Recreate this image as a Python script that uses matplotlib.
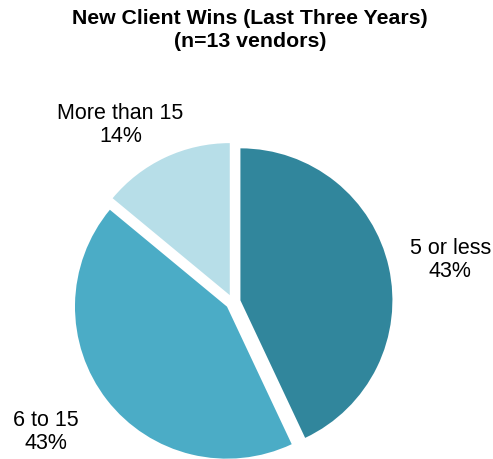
import matplotlib.pyplot as plt
import numpy as np

plt.rcParams['font.family'] = ['Liberation Sans', 'DejaVu Sans']

categories = ['5 or less', '6 to 15', 'More than 15']
shares = [43, 43, 14]
colors = ['#31869C', '#4BACC6', '#B7DEE8']
# label centres, in units of the pie radius
label_pos = [(1.43, 0.28), (-1.23, -0.85), (-0.74, 1.17)]

W, H = 493, 460
cx, cy, r = 233, 303, 152   # pie centre / radius in pixels

fig = plt.figure(figsize=(W / 100, H / 100), dpi=100)
ax = fig.add_axes([0, 0, 1, 1])

wedges, _ = ax.pie(shares, colors=colors, startangle=90, counterclock=False,
                   explode=[0.05] * len(shares), radius=1.0,
                   wedgeprops=dict(linewidth=0))

ax.set_xlim(-cx / r, (W - cx) / r)
ax.set_ylim(-(H - cy) / r, cy / r)
ax.set_aspect('equal')
ax.axis('off')

for name, val, (x, y) in zip(categories, shares, label_pos):
    ax.text(x, y, f'{name}\n{val}%', ha='center', va='center',
            fontsize=15.5, linespacing=1.12, color='#000000')

fig.text(0.507, 1 - 30 / H, 'New Client Wins (Last Three Years)\n(n=13 vendors)',
         ha='center', va='center', fontsize=15.3, fontweight='bold',
         linespacing=1.22)

fig.savefig('out.png', dpi=100)
